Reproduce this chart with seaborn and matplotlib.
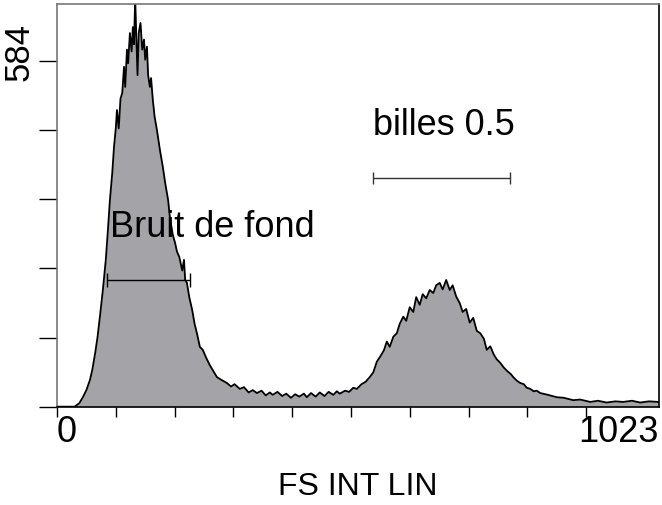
import matplotlib
matplotlib.use("Agg")
import matplotlib.pyplot as plt
import seaborn as sns
import pandas as pd

# histogram, by section (channel, count)
ch_montee = [0, 30, 34, 38, 44, 50, 56, 60, 65, 69, 73, 78, 83, 87, 90, 94, 97, 100]
n_montee = [0, 0, 3, 6, 16, 28, 45, 62, 91, 118, 152, 197, 248, 304, 349, 395, 439, 470]

ch_pic1 = [102, 105, 108, 111, 114, 116, 119, 121, 124, 127, 129, 131, 133, 135,
           137, 139, 142, 145, 148, 150, 153, 155, 158, 160, 163, 166, 170]
n_pic1 = [501, 470, 520, 530, 574, 540, 603, 580, 631, 600, 641, 612, 690, 620,
          560, 631, 648, 603, 620, 586, 608, 560, 540, 555, 518, 490, 467]

ch_descente = [175, 180, 184, 189, 192, 197, 201, 204, 208, 213, 216, 218, 221, 225,
               230, 234, 238, 243, 248, 254, 260, 266, 272, 280, 289]
n_descente = [434, 405, 378, 349, 320, 290, 276, 262, 253, 230, 248, 214, 209, 185,
              163, 140, 124, 101, 96, 82, 70, 60, 50, 45, 40]

ch_creux = [296, 302, 311, 318, 326, 333, 340, 348, 355, 362, 367, 375, 383, 390,
            398, 405, 412, 420, 425, 432, 440, 447, 455, 462, 470, 476, 481, 490,
            497, 504, 510, 518]
n_creux = [34, 38, 30, 33, 24, 28, 23, 27, 19, 24, 20, 25, 18, 22,
           15, 21, 17, 22, 16, 23, 17, 24, 18, 25, 20, 26, 22, 27,
           25, 32, 30, 38]

ch_billes = [525, 532, 538, 544, 550, 556, 561, 566, 572, 578, 583, 589, 594, 600,
             606, 611, 617, 622, 628, 634, 640, 645, 651, 656, 662, 668, 673, 679,
             685, 690, 696, 702, 708, 714, 720, 726, 731, 737, 743, 748, 754, 760,
             766, 772, 776, 782, 788, 794, 799, 805, 811, 816, 822]
n_billes = [42, 50, 58, 76, 85, 95, 110, 101, 118, 124, 140, 152, 145, 168,
            160, 185, 172, 190, 183, 197, 192, 205, 209, 198, 214, 197, 205, 186,
            175, 160, 165, 142, 150, 128, 124, 115, 96, 102, 88, 80, 74, 66,
            60, 55, 50, 44, 40, 38, 32, 30, 26, 27, 23]

ch_queue = [835, 850, 862, 878, 890, 907, 920, 935, 950, 963, 978, 992, 1007, 1021, 1023]
n_queue = [20, 16, 15, 11, 12, 8, 10, 7, 9, 8, 10, 7, 9, 8, 8]

y_ticks = [0, 116.8, 233.6, 350.4, 467.2, 584]
x_ticks = [0, 100, 200, 300, 400, 500, 600, 700, 800, 900]

df = pd.DataFrame({
    'canal': ch_montee + ch_pic1 + ch_descente + ch_creux + ch_billes + ch_queue,
    'n': n_montee + n_pic1 + n_descente + n_creux + n_billes + n_queue,
})

sns.set_style("white")
plt.rcParams['font.family'] = ['Liberation Sans', 'DejaVu Sans']
plt.rcParams['text.color'] = 'black'

fig = plt.figure(figsize=(6.62, 5.05), dpi=100)
ax = fig.add_axes([0.0861, 0.1947, 0.9094, 0.7973])

ax.fill_between(df['canal'], df['n'], color='#a4a3a8', lw=0)
sns.lineplot(data=df, x='canal', y='n', color='black', lw=1.3, estimator=None, ax=ax)

ax.set_xlim(0, 1024)
ax.set_ylim(0, 680)

ax.set_xticks(x_ticks)
ax.set_xticklabels([])
ax.set_yticks(y_ticks)
ax.set_yticklabels([])
ax.tick_params(axis='x', direction='out', length=7, width=1, color='black', bottom=True)
ax.tick_params(axis='y', direction='out', length=13, width=1, color='black', left=True)
ax.set_xlabel('')
ax.set_ylabel('')

for s in ['left', 'top']:
    ax.spines[s].set_color('#777777')
for s in ['bottom', 'right']:
    ax.spines[s].set_color('black')
for s in ax.spines.values():
    s.set_linewidth(1.2)

# tick labels as on the cytometer print
ax.text(0, -0.02, '0', transform=ax.get_xaxis_transform(), ha='left', va='top', fontsize=26)
ax.text(1024, -0.02, '1023', transform=ax.get_xaxis_transform(), ha='right', va='top', fontsize=26)
ax.text(-0.036, 599, '584', transform=ax.get_yaxis_transform(), ha='right', va='center',
        rotation=90, fontsize=25)

fig.text(0.541, 0.02, 'FS INT LIN', fontsize=23, ha='center', va='baseline')

# gates
ax.text(90, 286, 'Bruit de fond', fontsize=26, ha='left', va='baseline')
ax.errorbar([155.5], [214], xerr=[[70.5], [70.5]], color='black', lw=1, capsize=5)
ax.text(537, 459, 'billes 0.5', fontsize=26, ha='left', va='baseline')
ax.errorbar([654], [386], xerr=[[116.5], [116.5]], color='#333333', lw=1, capsize=4)

fig.savefig('out.png', dpi=100)
